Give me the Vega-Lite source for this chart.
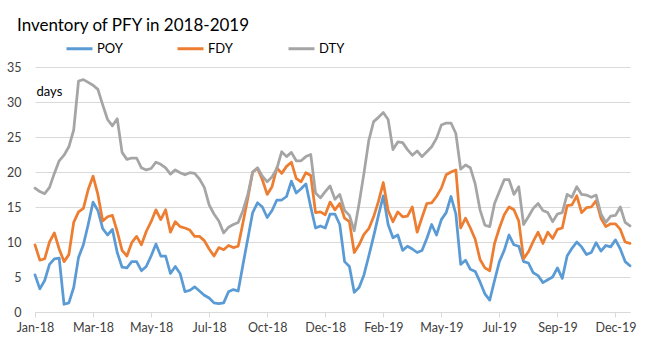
{
  "$schema": "https://vega.github.io/schema/vega-lite/v6.json",
  "width": 595,
  "height": 245,
  "autosize": {"type": "none"},
  "padding": {"left": 35, "top": 67, "right": 24, "bottom": 46},
  "background": "white",
  "config": {"view": {"stroke": null}, "font": "Lato"},
  "title": {"text": "Inventory of PFY in 2018-2019", "anchor": "start", "frame": "group", "dx": -18, "offset": -14, "baseline": "alphabetic", "fontSize": 17, "fontWeight": "normal", "color": "#000000", "font": "Lato"},
  "data": {"values": [
    {"date": "2018-01-02", "POY": 5.3, "FDY": 9.6, "DTY": 17.7},
    {"date": "2018-01-08", "POY": 3.3, "FDY": 7.4, "DTY": 17.2},
    {"date": "2018-01-14", "POY": 4.5, "FDY": 7.6, "DTY": 16.9},
    {"date": "2018-01-20", "POY": 6.8, "FDY": 10.0, "DTY": 17.8},
    {"date": "2018-01-26", "POY": 7.6, "FDY": 11.3, "DTY": 19.8},
    {"date": "2018-02-01", "POY": 7.7, "FDY": 9.0, "DTY": 21.6},
    {"date": "2018-02-07", "POY": 1.1, "FDY": 7.2, "DTY": 22.4},
    {"date": "2018-02-13", "POY": 1.3, "FDY": 8.2, "DTY": 23.6},
    {"date": "2018-02-19", "POY": 3.5, "FDY": 12.8, "DTY": 26.0},
    {"date": "2018-02-25", "POY": 7.8, "FDY": 14.3, "DTY": 33.0},
    {"date": "2018-03-03", "POY": 9.6, "FDY": 14.8, "DTY": 33.2},
    {"date": "2018-03-09", "POY": 12.5, "FDY": 17.5, "DTY": 32.8},
    {"date": "2018-03-15", "POY": 15.7, "FDY": 19.4, "DTY": 32.4},
    {"date": "2018-03-21", "POY": 14.5, "FDY": 16.8, "DTY": 31.8},
    {"date": "2018-03-27", "POY": 11.9, "FDY": 13.0, "DTY": 29.6},
    {"date": "2018-04-02", "POY": 11.0, "FDY": 13.6, "DTY": 27.5},
    {"date": "2018-04-08", "POY": 11.8, "FDY": 13.8, "DTY": 26.6},
    {"date": "2018-04-14", "POY": 8.5, "FDY": 11.5, "DTY": 27.6},
    {"date": "2018-04-20", "POY": 6.4, "FDY": 8.8, "DTY": 22.8},
    {"date": "2018-04-26", "POY": 6.3, "FDY": 8.0, "DTY": 21.8},
    {"date": "2018-05-02", "POY": 7.2, "FDY": 9.9, "DTY": 22.0},
    {"date": "2018-05-08", "POY": 7.2, "FDY": 10.8, "DTY": 22.0},
    {"date": "2018-05-14", "POY": 5.9, "FDY": 9.6, "DTY": 20.6},
    {"date": "2018-05-20", "POY": 6.5, "FDY": 11.5, "DTY": 20.3},
    {"date": "2018-05-26", "POY": 8.0, "FDY": 12.9, "DTY": 20.5},
    {"date": "2018-06-01", "POY": 9.7, "FDY": 14.6, "DTY": 21.4},
    {"date": "2018-06-06", "POY": 8.0, "FDY": 13.2, "DTY": 21.1},
    {"date": "2018-06-12", "POY": 8.0, "FDY": 14.6, "DTY": 20.6},
    {"date": "2018-06-17", "POY": 5.5, "FDY": 11.4, "DTY": 19.7},
    {"date": "2018-06-23", "POY": 6.5, "FDY": 12.9, "DTY": 20.3},
    {"date": "2018-06-28", "POY": 5.5, "FDY": 12.2, "DTY": 19.9},
    {"date": "2018-07-04", "POY": 2.9, "FDY": 12.0, "DTY": 19.6},
    {"date": "2018-07-09", "POY": 3.1, "FDY": 11.7, "DTY": 19.9},
    {"date": "2018-07-15", "POY": 3.6, "FDY": 10.8, "DTY": 19.8},
    {"date": "2018-07-20", "POY": 3.0, "FDY": 10.8, "DTY": 19.0},
    {"date": "2018-07-26", "POY": 2.4, "FDY": 10.2, "DTY": 17.8},
    {"date": "2018-07-31", "POY": 2.0, "FDY": 9.0, "DTY": 15.3},
    {"date": "2018-08-06", "POY": 1.3, "FDY": 8.0, "DTY": 14.0},
    {"date": "2018-08-12", "POY": 1.2, "FDY": 9.2, "DTY": 13.0},
    {"date": "2018-08-18", "POY": 1.3, "FDY": 8.9, "DTY": 11.3},
    {"date": "2018-08-24", "POY": 2.9, "FDY": 9.5, "DTY": 12.1},
    {"date": "2018-08-30", "POY": 3.2, "FDY": 9.2, "DTY": 12.5},
    {"date": "2018-09-05", "POY": 3.0, "FDY": 9.4, "DTY": 12.8},
    {"date": "2018-09-11", "POY": 6.8, "FDY": 12.8, "DTY": 14.5},
    {"date": "2018-09-17", "POY": 10.5, "FDY": 16.3, "DTY": 16.8},
    {"date": "2018-09-23", "POY": 14.2, "FDY": 20.0, "DTY": 20.0},
    {"date": "2018-09-29", "POY": 15.6, "FDY": 20.5, "DTY": 20.6},
    {"date": "2018-10-05", "POY": 15.0, "FDY": 18.9, "DTY": 19.4},
    {"date": "2018-10-11", "POY": 13.5, "FDY": 16.8, "DTY": 18.6},
    {"date": "2018-10-16", "POY": 14.5, "FDY": 17.9, "DTY": 19.3},
    {"date": "2018-10-22", "POY": 16.0, "FDY": 20.6, "DTY": 20.5},
    {"date": "2018-10-27", "POY": 16.0, "FDY": 19.8, "DTY": 22.9},
    {"date": "2018-11-01", "POY": 16.5, "FDY": 20.8, "DTY": 22.2},
    {"date": "2018-11-07", "POY": 18.7, "FDY": 21.4, "DTY": 22.8},
    {"date": "2018-11-12", "POY": 17.0, "FDY": 19.1, "DTY": 21.6},
    {"date": "2018-11-17", "POY": 17.6, "FDY": 18.6, "DTY": 21.6},
    {"date": "2018-11-23", "POY": 18.3, "FDY": 19.9, "DTY": 22.2},
    {"date": "2018-11-28", "POY": 15.0, "FDY": 19.5, "DTY": 22.5},
    {"date": "2018-12-03", "POY": 12.0, "FDY": 14.2, "DTY": 17.0},
    {"date": "2018-12-09", "POY": 12.3, "FDY": 14.3, "DTY": 16.3},
    {"date": "2018-12-14", "POY": 12.0, "FDY": 13.9, "DTY": 17.2},
    {"date": "2018-12-20", "POY": 14.0, "FDY": 15.7, "DTY": 18.0},
    {"date": "2018-12-26", "POY": 14.0, "FDY": 14.6, "DTY": 16.1},
    {"date": "2019-01-01", "POY": 12.5, "FDY": 15.5, "DTY": 16.8},
    {"date": "2019-01-07", "POY": 7.2, "FDY": 13.4, "DTY": 14.5},
    {"date": "2019-01-13", "POY": 6.5, "FDY": 12.9, "DTY": 13.8},
    {"date": "2019-01-19", "POY": 2.8, "FDY": 8.5, "DTY": 11.6},
    {"date": "2019-01-25", "POY": 3.5, "FDY": 9.6, "DTY": 15.5},
    {"date": "2019-01-31", "POY": 5.3, "FDY": 11.1, "DTY": 19.8},
    {"date": "2019-02-06", "POY": 8.0, "FDY": 11.9, "DTY": 24.5},
    {"date": "2019-02-12", "POY": 10.8, "FDY": 13.6, "DTY": 27.2},
    {"date": "2019-02-18", "POY": 13.8, "FDY": 15.8, "DTY": 27.8},
    {"date": "2019-02-25", "POY": 16.6, "FDY": 18.5, "DTY": 28.5},
    {"date": "2019-03-03", "POY": 12.5, "FDY": 14.5, "DTY": 27.5},
    {"date": "2019-03-09", "POY": 10.6, "FDY": 12.9, "DTY": 23.2},
    {"date": "2019-03-15", "POY": 11.0, "FDY": 14.3, "DTY": 24.3},
    {"date": "2019-03-21", "POY": 8.8, "FDY": 13.6, "DTY": 24.2},
    {"date": "2019-03-27", "POY": 9.4, "FDY": 13.7, "DTY": 23.2},
    {"date": "2019-04-02", "POY": 9.0, "FDY": 15.0, "DTY": 22.4},
    {"date": "2019-04-08", "POY": 8.5, "FDY": 11.4, "DTY": 23.0},
    {"date": "2019-04-14", "POY": 8.8, "FDY": 13.5, "DTY": 22.2},
    {"date": "2019-04-20", "POY": 10.5, "FDY": 15.5, "DTY": 22.9},
    {"date": "2019-04-26", "POY": 12.5, "FDY": 15.6, "DTY": 23.6},
    {"date": "2019-05-01", "POY": 11.0, "FDY": 16.5, "DTY": 24.8},
    {"date": "2019-05-06", "POY": 13.2, "FDY": 17.7, "DTY": 26.7},
    {"date": "2019-05-12", "POY": 14.2, "FDY": 19.6, "DTY": 27.0},
    {"date": "2019-05-17", "POY": 16.5, "FDY": 20.0, "DTY": 27.0},
    {"date": "2019-05-23", "POY": 14.0, "FDY": 20.3, "DTY": 25.5},
    {"date": "2019-05-28", "POY": 6.8, "FDY": 12.0, "DTY": 20.4},
    {"date": "2019-06-03", "POY": 7.4, "FDY": 13.4, "DTY": 21.0},
    {"date": "2019-06-08", "POY": 6.1, "FDY": 12.0, "DTY": 20.6},
    {"date": "2019-06-14", "POY": 5.8, "FDY": 10.4, "DTY": 18.3},
    {"date": "2019-06-19", "POY": 4.3, "FDY": 7.5, "DTY": 14.6},
    {"date": "2019-06-25", "POY": 2.6, "FDY": 6.3, "DTY": 12.4},
    {"date": "2019-06-30", "POY": 1.7, "FDY": 5.9, "DTY": 12.2},
    {"date": "2019-07-06", "POY": 4.5, "FDY": 9.8, "DTY": 15.5},
    {"date": "2019-07-12", "POY": 7.2, "FDY": 12.0, "DTY": 17.2},
    {"date": "2019-07-18", "POY": 8.8, "FDY": 13.9, "DTY": 18.9},
    {"date": "2019-07-24", "POY": 11.0, "FDY": 15.0, "DTY": 18.9},
    {"date": "2019-07-30", "POY": 9.6, "FDY": 14.6, "DTY": 16.8},
    {"date": "2019-08-05", "POY": 9.4, "FDY": 13.0, "DTY": 17.9},
    {"date": "2019-08-11", "POY": 7.2, "FDY": 7.6, "DTY": 12.5},
    {"date": "2019-08-17", "POY": 7.0, "FDY": 8.6, "DTY": 13.6},
    {"date": "2019-08-23", "POY": 5.6, "FDY": 10.1, "DTY": 14.8},
    {"date": "2019-08-29", "POY": 5.2, "FDY": 11.4, "DTY": 15.5},
    {"date": "2019-09-04", "POY": 4.2, "FDY": 9.8, "DTY": 14.5},
    {"date": "2019-09-10", "POY": 4.6, "FDY": 11.4, "DTY": 14.2},
    {"date": "2019-09-15", "POY": 5.0, "FDY": 10.5, "DTY": 12.9},
    {"date": "2019-09-20", "POY": 6.3, "FDY": 11.8, "DTY": 14.0},
    {"date": "2019-09-26", "POY": 4.8, "FDY": 12.0, "DTY": 14.2},
    {"date": "2019-10-02", "POY": 8.0, "FDY": 15.2, "DTY": 16.8},
    {"date": "2019-10-08", "POY": 9.1, "FDY": 15.3, "DTY": 16.4},
    {"date": "2019-10-14", "POY": 10.0, "FDY": 16.6, "DTY": 17.9},
    {"date": "2019-10-20", "POY": 9.3, "FDY": 14.2, "DTY": 16.8},
    {"date": "2019-10-26", "POY": 8.2, "FDY": 14.9, "DTY": 16.7},
    {"date": "2019-11-01", "POY": 8.5, "FDY": 15.0, "DTY": 16.4},
    {"date": "2019-11-07", "POY": 9.9, "FDY": 15.9, "DTY": 16.7},
    {"date": "2019-11-13", "POY": 8.7, "FDY": 13.4, "DTY": 14.0},
    {"date": "2019-11-19", "POY": 9.5, "FDY": 12.2, "DTY": 12.8},
    {"date": "2019-11-25", "POY": 9.3, "FDY": 12.6, "DTY": 13.7},
    {"date": "2019-12-02", "POY": 10.3, "FDY": 12.6, "DTY": 13.8},
    {"date": "2019-12-08", "POY": 9.0, "FDY": 11.8, "DTY": 15.0},
    {"date": "2019-12-14", "POY": 7.2, "FDY": 10.0, "DTY": 12.8},
    {"date": "2019-12-20", "POY": 6.6, "FDY": 9.8, "DTY": 12.3}
  ]},
  "transform": [{"fold": ["POY", "FDY", "DTY"], "as": ["series", "days"]}],
  "mark": {"type": "line", "strokeWidth": 2.75, "strokeJoin": "round", "strokeCap": "round"},
  "encoding": {
    "x": {
      "field": "date", "type": "ordinal",
      "scale": {"type": "point", "padding": 0},
      "axis": {
        "title": null,
        "values": ["2018-01-02", "2018-03-15", "2018-05-26", "2018-07-31", "2018-10-11", "2018-12-14", "2019-02-25", "2019-05-06", "2019-07-12", "2019-09-20", "2019-12-02"],
        "labelExpr": "utcFormat(toDate(datum.value), '%b-%y')",
        "labelAngle": 0, "labelFontSize": 12.5, "labelColor": "#404040", "labelPadding": 4,
        "domainColor": "#d9d9d9", "tickColor": "#d9d9d9", "tickSize": 5, "grid": false
      }
    },
    "y": {
      "field": "days", "type": "quantitative",
      "scale": {"domain": [0, 35], "nice": false},
      "axis": {
        "values": [0, 5, 10, 15, 20, 25, 30, 35],
        "title": "days", "titleAngle": 0, "titleAlign": "left", "titleBaseline": "middle",
        "titleX": 1, "titleY": 24, "titleFontSize": 13, "titleFontWeight": "normal", "titleColor": "#000000",
        "domain": false, "ticks": false, "labelPadding": 14, "labelFontSize": 12.5, "labelColor": "#404040",
        "gridColor": "#d9d9d9", "gridWidth": 1
      }
    },
    "color": {
      "field": "series", "type": "nominal",
      "scale": {"domain": ["POY", "FDY", "DTY"], "range": ["#5B9BD5", "#ED7D31", "#A5A5A5"]},
      "legend": {
        "title": null, "orient": "none", "legendX": 30, "legendY": -33, "direction": "horizontal", "columns": 3,
        "symbolType": "stroke", "symbolSize": 676, "symbolStrokeWidth": 3, "labelOffset": 3,
        "columnPadding": 48, "labelFontSize": 13, "labelColor": "#000000", "gridAlign": "all"
      }
    }
  }
}
